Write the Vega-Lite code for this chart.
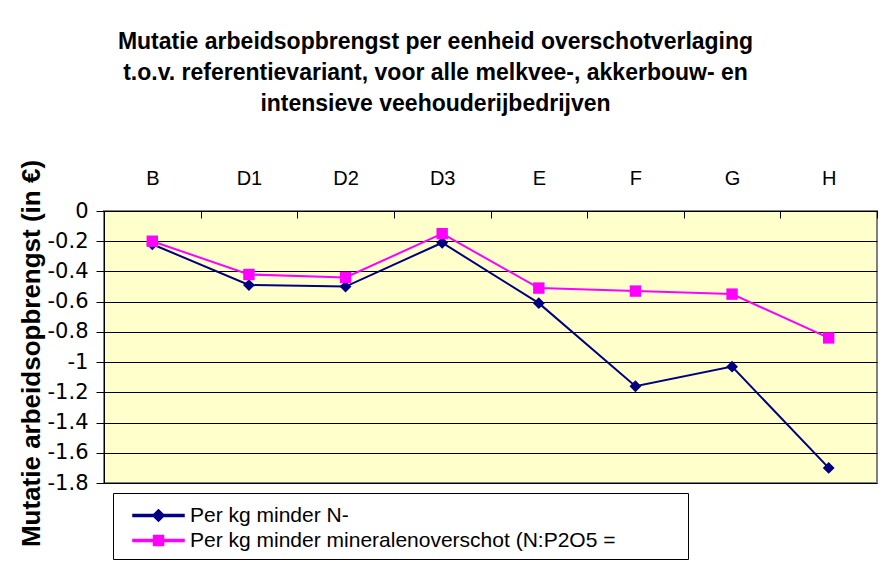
{
  "$schema": "https://vega.github.io/schema/vega-lite/v6.json",
  "width": 773,
  "height": 272,
  "autosize": {"type": "none"},
  "padding": {"left": 104, "top": 211, "right": 10, "bottom": 81},
  "background": "white",
  "config": {
    "view": {"fill": "#FFFFCC", "stroke": "#808080", "strokeWidth": 2}
  },
  "title": {
    "text": ["Mutatie arbeidsopbrengst per eenheid overschotverlaging", "t.o.v. referentievariant, voor alle melkvee-, akkerbouw- en", "intensieve veehouderijbedrijven"],
    "font": "Liberation Sans",
    "fontWeight": "bold",
    "fontSize": 23,
    "lineHeight": 31,
    "anchor": "middle",
    "dx": -55,
    "offset": 43,
    "color": "black"
  },
  "data": {
    "values": [
      {"cat": "B", "series": "Per kg minder N-", "value": -0.22},
      {"cat": "D1", "series": "Per kg minder N-", "value": -0.49},
      {"cat": "D2", "series": "Per kg minder N-", "value": -0.50},
      {"cat": "D3", "series": "Per kg minder N-", "value": -0.21},
      {"cat": "E", "series": "Per kg minder N-", "value": -0.61},
      {"cat": "F", "series": "Per kg minder N-", "value": -1.16},
      {"cat": "G", "series": "Per kg minder N-", "value": -1.03},
      {"cat": "H", "series": "Per kg minder N-", "value": -1.70},
      {"cat": "B", "series": "Per kg minder mineralenoverschot (N:P2O5 =", "value": -0.20},
      {"cat": "D1", "series": "Per kg minder mineralenoverschot (N:P2O5 =", "value": -0.42},
      {"cat": "D2", "series": "Per kg minder mineralenoverschot (N:P2O5 =", "value": -0.44},
      {"cat": "D3", "series": "Per kg minder mineralenoverschot (N:P2O5 =", "value": -0.15},
      {"cat": "E", "series": "Per kg minder mineralenoverschot (N:P2O5 =", "value": -0.51},
      {"cat": "F", "series": "Per kg minder mineralenoverschot (N:P2O5 =", "value": -0.53},
      {"cat": "G", "series": "Per kg minder mineralenoverschot (N:P2O5 =", "value": -0.55},
      {"cat": "H", "series": "Per kg minder mineralenoverschot (N:P2O5 =", "value": -0.84}
    ]
  },
  "encoding": {
    "x": {
      "field": "cat",
      "type": "nominal",
      "sort": ["B", "D1", "D2", "D3", "E", "F", "G", "H"],
      "scale": {"type": "band", "paddingInner": 0, "paddingOuter": 0},
      "axis": {
        "orient": "top",
        "title": null,
        "labelAngle": 0,
        "labelFont": "Liberation Sans",
        "labelFontSize": 20,
        "labelColor": "black",
        "labelPadding": 30,
        "tickBand": "extent",
        "tickSize": -7,
        "tickColor": "black",
        "domainColor": "black",
        "grid": false
      }
    },
    "y": {
      "field": "value",
      "type": "quantitative",
      "scale": {"domain": [-1.8, 0], "nice": false, "zero": false},
      "axis": {
        "values": [0, -0.2, -0.4, -0.6, -0.8, -1, -1.2, -1.4, -1.6, -1.8],
        "labelExpr": "replace(format(datum.value, '.1~f'), '\u2212', '-')",
        "labelFont": "DejaVu Sans",
        "labelFontSize": 21,
        "labelColor": "black",
        "labelPadding": 8,
        "tickSize": 8,
        "tickColor": "black",
        "domainColor": "black",
        "grid": true,
        "gridColor": "black",
        "gridOpacity": 1,
        "title": "Mutatie arbeidsopbrengst (in €)",
        "titleFont": "Liberation Sans",
        "titleFontWeight": "bold",
        "titleFontSize": 26,
        "titleColor": "black",
        "titleAngle": -90,
        "titleAlign": "center",
        "titleBaseline": "middle",
        "titleX": -73,
        "titleY": 142
      }
    },
    "color": {
      "field": "series",
      "type": "nominal",
      "scale": {
        "domain": ["Per kg minder N-", "Per kg minder mineralenoverschot (N:P2O5 ="],
        "range": ["#000080", "#FF00FF"]
      },
      "legend": {
        "orient": "none",
        "legendX": 9,
        "legendY": 282,
        "title": null,
        "direction": "vertical",
        "fillColor": "white",
        "strokeColor": "black",
        "padding": 8,
        "labelFont": "Liberation Sans",
        "labelFontSize": 21,
        "labelColor": "black",
        "labelLimit": 900,
        "labelOffset": 17,
        "labelExpr": "datum.label + '\u00a0\u00a0\u00a0\u00a0\u00a0\u00a0\u00a0\u00a0\u00a0\u00a0\u00a0\u200b'",
        "symbolSize": 729,
        "symbolOffset": 23,
        "symbolOpacity": 1,
        "rowPadding": 0
      }
    }
  },
  "layer": [
    {
      "mark": {"type": "line", "strokeWidth": 2}
    },
    {
      "transform": [{"filter": "datum.series === 'Per kg minder N-'"}],
      "mark": {"type": "point", "filled": true, "size": 140, "opacity": 1, "shape": "diamond"}
    },
    {
      "transform": [{"filter": "datum.series !== 'Per kg minder N-'"}],
      "mark": {"type": "point", "filled": true, "size": 130, "opacity": 1, "shape": "square"}
    },
    {
      "mark": {"type": "point", "filled": true, "size": 0},
      "encoding": {
        "shape": {
          "field": "series",
          "type": "nominal",
          "scale": {
            "domain": ["Per kg minder N-", "Per kg minder mineralenoverschot (N:P2O5 ="],
            "range": [
              "M-1.89,-0.074L1.89,-0.074L1.89,0.074L-1.89,0.074ZM0,-0.43L0.43,0L0,0.43L-0.43,0Z",
              "M-1.89,-0.074L1.89,-0.074L1.89,0.074L-1.89,0.074ZM-0.37,-0.37L0.37,-0.37L0.37,0.37L-0.37,0.37Z"
            ]
          },
          "legend": {
            "orient": "none",
            "legendX": 9,
            "legendY": 282,
            "title": null,
            "direction": "vertical",
            "fillColor": "white",
            "strokeColor": "black",
            "padding": 8,
            "labelFont": "Liberation Sans",
            "labelFontSize": 21,
            "labelColor": "black",
            "labelLimit": 900,
            "labelOffset": 17,
            "labelExpr": "datum.label + '\u00a0\u00a0\u00a0\u00a0\u00a0\u00a0\u00a0\u00a0\u00a0\u00a0\u00a0\u200b'",
            "symbolSize": 729,
            "symbolOffset": 23,
            "symbolOpacity": 1,
            "rowPadding": 0
          }
        }
      }
    }
  ]
}
